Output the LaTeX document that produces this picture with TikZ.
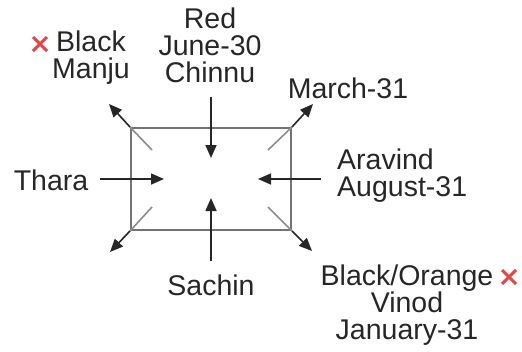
\documentclass[tikz,border=0pt]{standalone}
\usepackage{fontspec}
\setmainfont{Liberation Sans}
\usetikzlibrary{arrows.meta}
\definecolor{xred}{HTML}{E8454A}
\begin{document}
\begin{tikzpicture}[x=1pt,y=-1pt,
  lbl/.style={font=\fontsize{28.5}{27}\selectfont, align=center, inner sep=0pt, text=black!85},
  arr/.style={line width=1.6pt, draw=black!85, -{Triangle[length=13pt,width=11pt]}},
  inner/.style={line width=1.6pt, draw=black!45},
  cross/.style={draw=xred, line width=3pt},
  boxst/.style={draw=black!55, line width=2pt, minimum width=160pt, minimum height=102pt, inner sep=0pt}]
\useasboundingbox (0,0) rectangle (522,351);
\node[boxst] (box) at (211,179) {};
% labels
\node[lbl] (manju) at (91,58) {Black\\Manju};
\node[lbl] (red) at (210,45) {Red\\June-30\\Chinnu};
\node[lbl] (march) at (348,88) {March-31};
\node[lbl] (thara) at (51,180) {Thara};
\node[lbl, align=left, anchor=west] (aravind) at (337,176) {Aravind\\August-31};
\node[lbl] (sachin) at (211,285) {Sachin};
\node[lbl] (vinod) at (407,305) {Black/Orange\\Vinod\\January-31};
% crosses
\coordinate (c1) at (40,44);
\draw[cross] ([shift={(-7,-7)}]c1) -- ([shift={(7,7)}]c1) ([shift={(-7,7)}]c1) -- ([shift={(7,-7)}]c1);
\coordinate (c2) at (509,277);
\draw[cross] ([shift={(-7,-7)}]c2) -- ([shift={(7,7)}]c2) ([shift={(-7,7)}]c2) -- ([shift={(7,-7)}]c2);
% straight arrows
\coordinate (ttip) at (211,158);
\coordinate (ltip) at (164,179);
\coordinate (rtip) at (258,179);
\coordinate (btip) at (211,198);
\draw[arr] (211,97) -- (ttip);
\draw[arr] (100,179) -- (ltip);
\draw[arr] (321,179) -- (rtip);
\draw[arr] (211,261) -- (btip);
% corner arrows
\coordinate (tl) at (109,104);
\coordinate (tr) at (313,104);
\coordinate (bl) at (110,252);
\coordinate (br) at (312,251);
\draw[inner] (152,150) -- (box.north west);
\draw[arr] (box.north west) -- (tl);
\draw[inner] (268,150) -- (box.north east);
\draw[arr] (box.north east) -- (tr);
\draw[inner] (152,207) -- (box.south west);
\draw[arr] (box.south west) -- (bl);
\draw[inner] (268,207) -- (box.south east);
\draw[arr] (box.south east) -- (br);
\end{tikzpicture}
\end{document}
